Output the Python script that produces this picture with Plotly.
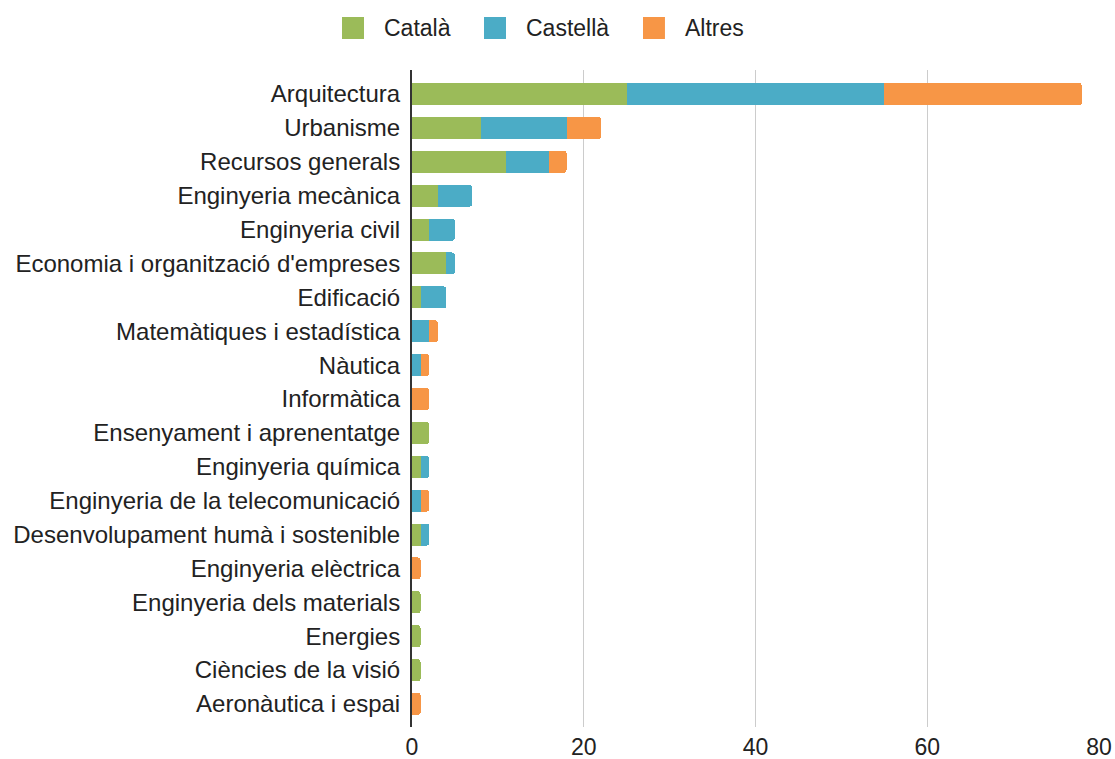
import plotly.graph_objects as go

categories = ["Arquitectura", "Urbanisme", "Recursos generals", "Enginyeria mecànica",
              "Enginyeria civil", "Economia i organització d'empreses", "Edificació",
              "Matemàtiques i estadística", "Nàutica", "Informàtica",
              "Ensenyament i aprenentatge", "Enginyeria química",
              "Enginyeria de la telecomunicació", "Desenvolupament humà i sostenible",
              "Enginyeria elèctrica", "Enginyeria dels materials", "Energies",
              "Ciències de la visió", "Aeronàutica i espai"]
catala =   [25, 8, 11, 3, 2, 4, 1, 0, 0, 0, 2, 1, 0, 1, 0, 1, 1, 1, 0]
castella = [30, 10, 5, 4, 3, 1, 3, 2, 1, 0, 0, 1, 1, 1, 0, 0, 0, 0, 0]
altres =   [23, 4, 2, 0, 0, 0, 0, 1, 1, 2, 0, 0, 1, 0, 1, 0, 0, 0, 1]
series = [("Català", catala, "#9bbb59"), ("Castellà", castella, "#4bacc6"), ("Altres", altres, "#f79646")]

# legend layout (paper coords): square left edges and text starts
legend_sq_x = [-0.1019, 0.1048, 0.3362]
legend_txt_x = [-0.0437, 0.1630, 0.3944]
SQ_W = 0.032
SQ_Y0, SQ_Y1, TXT_Y = 1.0472, 1.0807, 1.0639

fig = go.Figure()
for i, (name, vals, col) in enumerate(series):
    fig.add_trace(go.Bar(y=categories, x=vals, name=name, orientation="h", showlegend=False,
                         marker=dict(color=col, line=dict(width=0))))
    fig.add_shape(type="rect", xref="paper", yref="paper",
                  x0=legend_sq_x[i], x1=legend_sq_x[i] + SQ_W, y0=SQ_Y0, y1=SQ_Y1,
                  fillcolor=col, line=dict(width=0))
    fig.add_annotation(xref="paper", yref="paper", x=legend_txt_x[i], y=TXT_Y,
                       text=name, showarrow=False, xanchor="left", yanchor="middle",
                       font=dict(size=23, color="#222222"))

fig.update_layout(
    barmode="stack", bargap=0.35, barcornerradius=3,
    width=1115, height=759,
    margin=dict(l=412, r=16, t=70, b=32, autoexpand=False),
    paper_bgcolor="white", plot_bgcolor="white",
    font=dict(family="Liberation Sans, Arial, sans-serif", size=24, color="#222222"),
    showlegend=False,
    xaxis=dict(range=[0, 80], dtick=20, showgrid=True, gridcolor="#cccccc", gridwidth=1,
               zeroline=False, showline=False, ticks="", automargin=False,
               ticklabelstandoff=4, tickfont=dict(size=23)),
    yaxis=dict(range=[18.68, -0.71], showline=True, linecolor="#333333", linewidth=2,
               ticks="", ticklabelstandoff=5, automargin=False, tickfont=dict(size=24)),
)
fig.write_html("out.html", config={"displayModeBar": False},
               post_script="document.body.style.margin='0';document.body.style.overflow='hidden';")
